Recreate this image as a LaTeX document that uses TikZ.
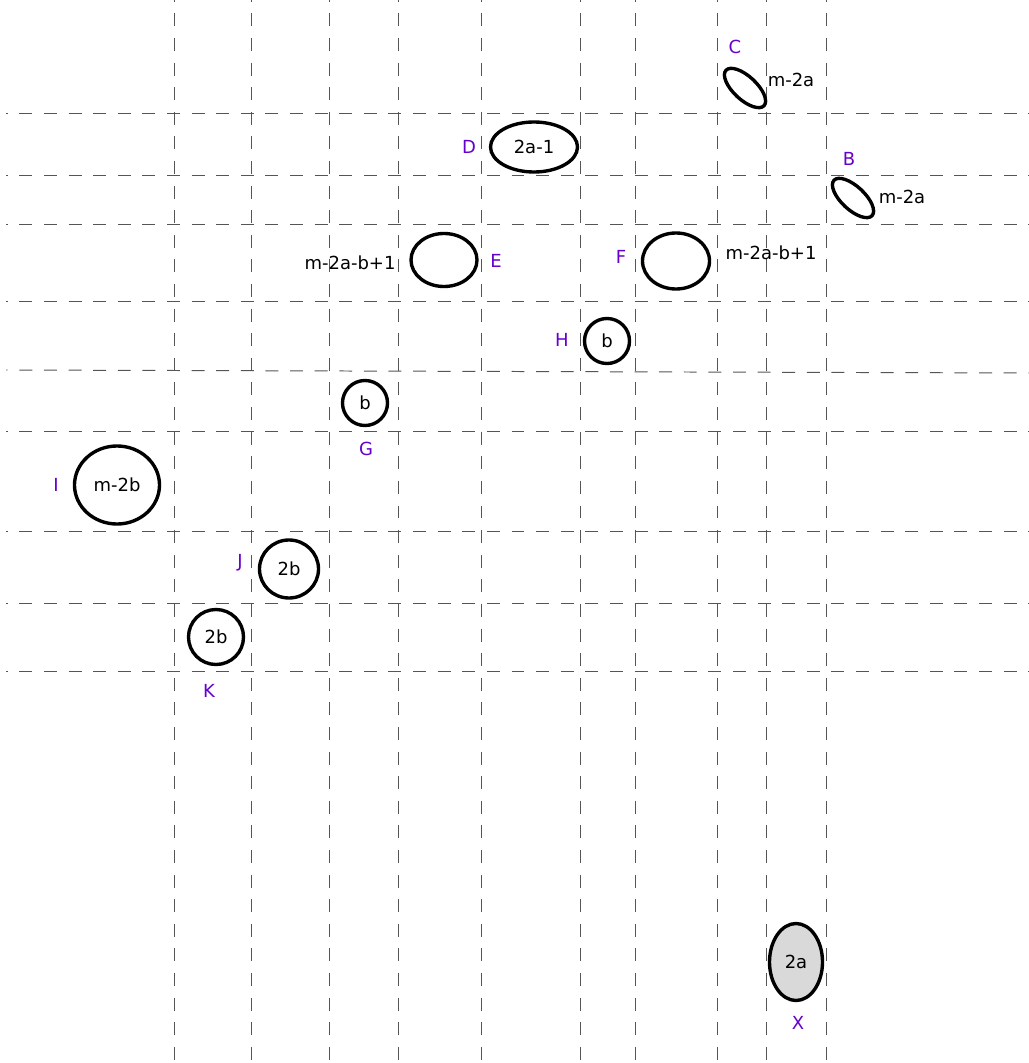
\documentclass[tikz,border=0pt]{standalone}
\usepackage{fontspec}
\setmainfont{DejaVu Sans}
\usepackage{xcolor}
\usetikzlibrary{shapes.geometric,positioning}
\definecolor{lbviolet}{HTML}{6600CC}
\definecolor{lbgris}{HTML}{D9D9D9}
\definecolor{lbgrille}{HTML}{555555}

\begin{document}
\begin{tikzpicture}[x=0.025cm, y=-0.025cm, every node/.style={font=\fontsize{12.8}{15}\selectfont},
    grille/.style={lbgrille, line width=0.7pt, dash pattern=on 9.2pt off 8.3pt, dash phase=8pt},
    boucle/.style={ellipse, draw, line width=2.4pt, inner sep=0pt},
    lettre/.style={lbviolet}]
  \useasboundingbox (0,0) rectangle (1029,1063);
  % grille
  \foreach \x in {174,251,329,398,481,580,635,717,766,826}
    \draw[grille] (\x,0) -- (\x,1063);
  \foreach \y in {113,175,224,301,431,531,603,671}
    \draw[grille] (6,\y) -- (1029,\y);
  \draw[grille] (6,370) -- (1029,373);
  % boucles du haut
  \node[boucle, rotate=-43, minimum width=1.3cm, minimum height=0.58cm] (C) at (745,88) {};
  \node[lettre] (lC) at (735,47) {C};
  \node (tC) at (791,80) {m-2a};
  \node[boucle, rotate=-43, minimum width=1.3cm, minimum height=0.58cm] (B) at (853,198) {};
  \node[lettre] (lB) at (849,159) {B};
  \node (tB) at (902,197) {m-2a};
  \node[boucle, minimum width=2.175cm, minimum height=1.25cm] (D) at (534,147) {2a-1};
  \node[lettre] (lD) at (469,147) {D};
  % E et F
  \node[boucle, minimum width=1.65cm, minimum height=1.325cm] (E) at (444,260) {};
  \node[lettre] (lE) at (496,261) {E};
  \node (tE) at (350,263) {m-2a-b+1};
  \node[boucle, minimum width=1.675cm, minimum height=1.4cm] (F) at (676,261) {};
  \node[lettre] (lF) at (621,257) {F};
  \node (tF) at (771,253) {m-2a-b+1};
  % H et G
  \node[boucle, minimum width=1.125cm, minimum height=1.125cm] (H) at (607,341) {b};
  \node[lettre] (lH) at (562,340) {H};
  \node[boucle, minimum width=1.125cm, minimum height=1.125cm] (G) at (365,403) {b};
  \node[lettre] (lG) at (366,449) {G};
  % I, J, K
  \node[boucle, minimum width=2.125cm, minimum height=1.95cm] (I) at (117,485) {m-2b};
  \node[lettre] (lI) at (56,485) {I};
  \node[boucle, minimum width=1.475cm, minimum height=1.45cm] (J) at (289,569) {2b};
  \node[lettre] (lJ) at (240,563) {J};
  \node[boucle, minimum width=1.375cm, minimum height=1.375cm] (K) at (216,637) {2b};
  \node[lettre] (lK) at (209,691) {K};
  % X (grise)
  \node[boucle, fill=lbgris, minimum width=1.325cm, minimum height=1.925cm] (X) at (796,962) {2a};
  \node[lettre] (lX) at (798,1023) {X};
\end{tikzpicture}
\end{document}
